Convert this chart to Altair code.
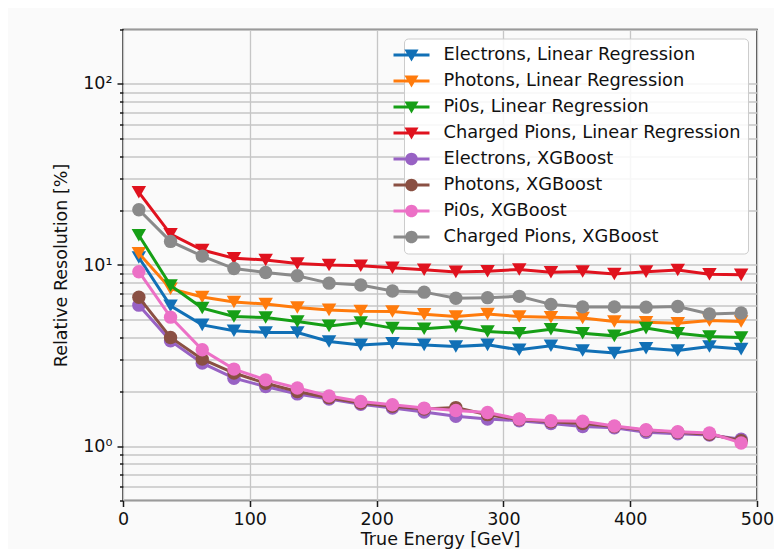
import altair as alt
import pandas as pd

energy = [12.5, 37.5, 62.5, 87.5, 112.5, 137.5, 162.5, 187.5, 212.5, 237.5,
          262.5, 287.5, 312.5, 337.5, 362.5, 387.5, 412.5, 437.5, 462.5, 487.5]

series_names = [
    "Electrons, Linear Regression",
    "Photons, Linear Regression",
    "Pi0s, Linear Regression",
    "Charged Pions, Linear Regression",
    "Electrons, XGBoost",
    "Photons, XGBoost",
    "Pi0s, XGBoost",
    "Charged Pions, XGBoost",
]

electrons_lr = [11.0, 5.95, 4.67, 4.33, 4.24, 4.24, 3.78, 3.62, 3.70, 3.62,
                3.55, 3.62, 3.40, 3.58, 3.37, 3.26, 3.47, 3.37, 3.55, 3.43]
photons_lr = [11.6, 7.4, 6.65, 6.24, 6.08, 5.82, 5.65, 5.56, 5.54, 5.35,
              5.19, 5.36, 5.19, 5.15, 5.09, 4.87, 4.83, 4.77, 4.94, 4.87]
pi0s_lr = [14.6, 7.7, 5.78, 5.19, 5.13, 4.87, 4.61, 4.81, 4.48, 4.45,
           4.57, 4.29, 4.20, 4.42, 4.20, 4.06, 4.48, 4.20, 4.03, 3.98]
charged_lr = [25.2, 14.8, 12.1, 10.9, 10.66, 10.2, 10.0, 9.9, 9.65, 9.42,
              9.16, 9.23, 9.45, 9.12, 9.2, 8.91, 9.19, 9.38, 8.9, 8.82]
electrons_xgb = [6.0, 3.81, 2.87, 2.37, 2.13, 1.94, 1.82, 1.70, 1.62, 1.54,
                 1.46, 1.41, 1.38, 1.33, 1.28, 1.26, 1.19, 1.17, 1.15, 1.09]
photons_xgb = [6.63, 3.98, 3.02, 2.53, 2.22, 2.0, 1.85, 1.73, 1.66, 1.60,
               1.63, 1.49, 1.40, 1.36, 1.33, 1.28, 1.22, 1.19, 1.16, 1.07]
pi0s_xgb = [9.18, 5.15, 3.40, 2.66, 2.32, 2.09, 1.89, 1.76, 1.69, 1.62,
            1.57, 1.53, 1.41, 1.38, 1.37, 1.29, 1.23, 1.20, 1.18, 1.04]
charged_xgb = [20.2, 13.5, 11.2, 9.56, 9.09, 8.73, 7.94, 7.76, 7.19, 7.08,
               6.55, 6.6, 6.71, 6.06, 5.87, 5.87, 5.85, 5.9, 5.36, 5.43]

series_values = [electrons_lr, photons_lr, pi0s_lr, charged_lr,
                 electrons_xgb, photons_xgb, pi0s_xgb, charged_xgb]

colors = ["#1170b6", "#ff7b0c", "#169f16", "#e0121e",
          "#9862c4", "#8a5043", "#ec70c6", "#8a8a8a"]
marker_shapes = ["triangle-down"] * 4 + ["circle"] * 4

# legend glyphs (filled, no stroke): a thin bar for the line plus the marker
bar = "M-3,-0.17H1V0.17H-3Z"
tri_path = bar + "M-1.78,-0.62L-0.22,-0.62L-1,0.72Z"
circ_path = bar + "M-0.3,0A0.7,0.7 0 1,1 -1.7,0A0.7,0.7 0 1,1 -0.3,0Z"
legend_paths = [tri_path] * 4 + [circ_path] * 4

y_ticks = [0.5, 0.6, 0.7, 0.8, 0.9, 1, 2, 3, 4, 5, 6, 7, 8, 9,
           10, 20, 30, 40, 50, 60, 70, 80, 90, 100, 200]
x_ticks = [0, 100, 200, 300, 400, 500]

rows = []
for name, vals in zip(series_names, series_values):
    for e, v in zip(energy, vals):
        rows.append({"series": name, "energy": e, "value": v})
df = pd.DataFrame(rows)

FONT = "DejaVu Sans"
FS = 17.5

x_enc = alt.X(
    "energy:Q",
    scale=alt.Scale(domain=[0, 500], nice=False, zero=False),
    axis=alt.Axis(values=x_ticks, title="True Energy [GeV]", grid=True,
                  domain=False, tickSize=6, labelPadding=4, titlePadding=2,
                  labelFlush=False),
)
y_enc = alt.Y(
    "value:Q",
    scale=alt.Scale(type="log", domain=[0.5, 200], nice=False),
    axis=alt.Axis(
        values=y_ticks,
        title="Relative Resolution [%]",
        grid=True,
        domain=False,
        tickSize={"condition": {"test": "indexof([1, 10, 100], datum.value) >= 0", "value": 6},
                  "value": 3.5},
        labelExpr="datum.value == 1 ? '10⁰' : datum.value == 10 ? '10¹' : datum.value == 100 ? '10²' : ''",
        labelPadding=5,
        labelFlush=False,
        titlePadding=12,
    ),
)

layers = []
for name, col, shp in zip(series_names, colors, marker_shapes):
    base = alt.Chart(df).transform_filter(alt.datum.series == name)
    sz = 210 if shp == "triangle-down" else 180
    layers.append(base.mark_line(color=col, strokeWidth=3).encode(x=x_enc, y=y_enc))
    layers.append(base.mark_point(filled=True, shape=shp, size=sz, color=col,
                                  opacity=1).encode(x=x_enc, y=y_enc))

leg = alt.Legend(
    orient="top-right", offset=9, padding=7.5,
    fillColor="rgba(255,255,255,0.85)", strokeColor="#cccccc", cornerRadius=4,
    labelFont=FONT, labelFontSize=17.8, labelColor="#111111", labelLimit=500,
    symbolSize=324, symbolStrokeWidth=0, symbolOpacity=1, labelOffset=14,
    rowPadding=8,
)
legend_layer = alt.Chart(df).transform_filter("datum.value < 0").mark_point(
    filled=True, opacity=1, strokeWidth=0
).encode(
    x=x_enc, y=y_enc,
    fill=alt.Fill("series:N", scale=alt.Scale(domain=series_names, range=colors), legend=leg, title=None),
    shape=alt.Shape("series:N", scale=alt.Scale(domain=series_names, range=legend_paths), legend=leg, title=None),
)
layers.append(legend_layer)

chart = alt.layer(*layers).properties(
    width=634, height=471,
    autosize=alt.AutoSizeParams(type="none"),
    padding={"left": 115, "top": 21.5, "right": 17, "bottom": 48},
    background="#fafafa",
).configure_view(
    stroke="#1a1a1a", strokeWidth=1.5
).configure_axis(
    labelFont=FONT, titleFont=FONT, labelFontSize=FS, titleFontSize=FS,
    titleFontWeight="normal", labelColor="#111111", titleColor="#111111",
    gridColor="#c6c6c6", gridWidth=1.3, tickColor="#1a1a1a", tickWidth=1.5,
)

chart.save("out.html", embed_options={"renderer": "svg", "actions": False})
